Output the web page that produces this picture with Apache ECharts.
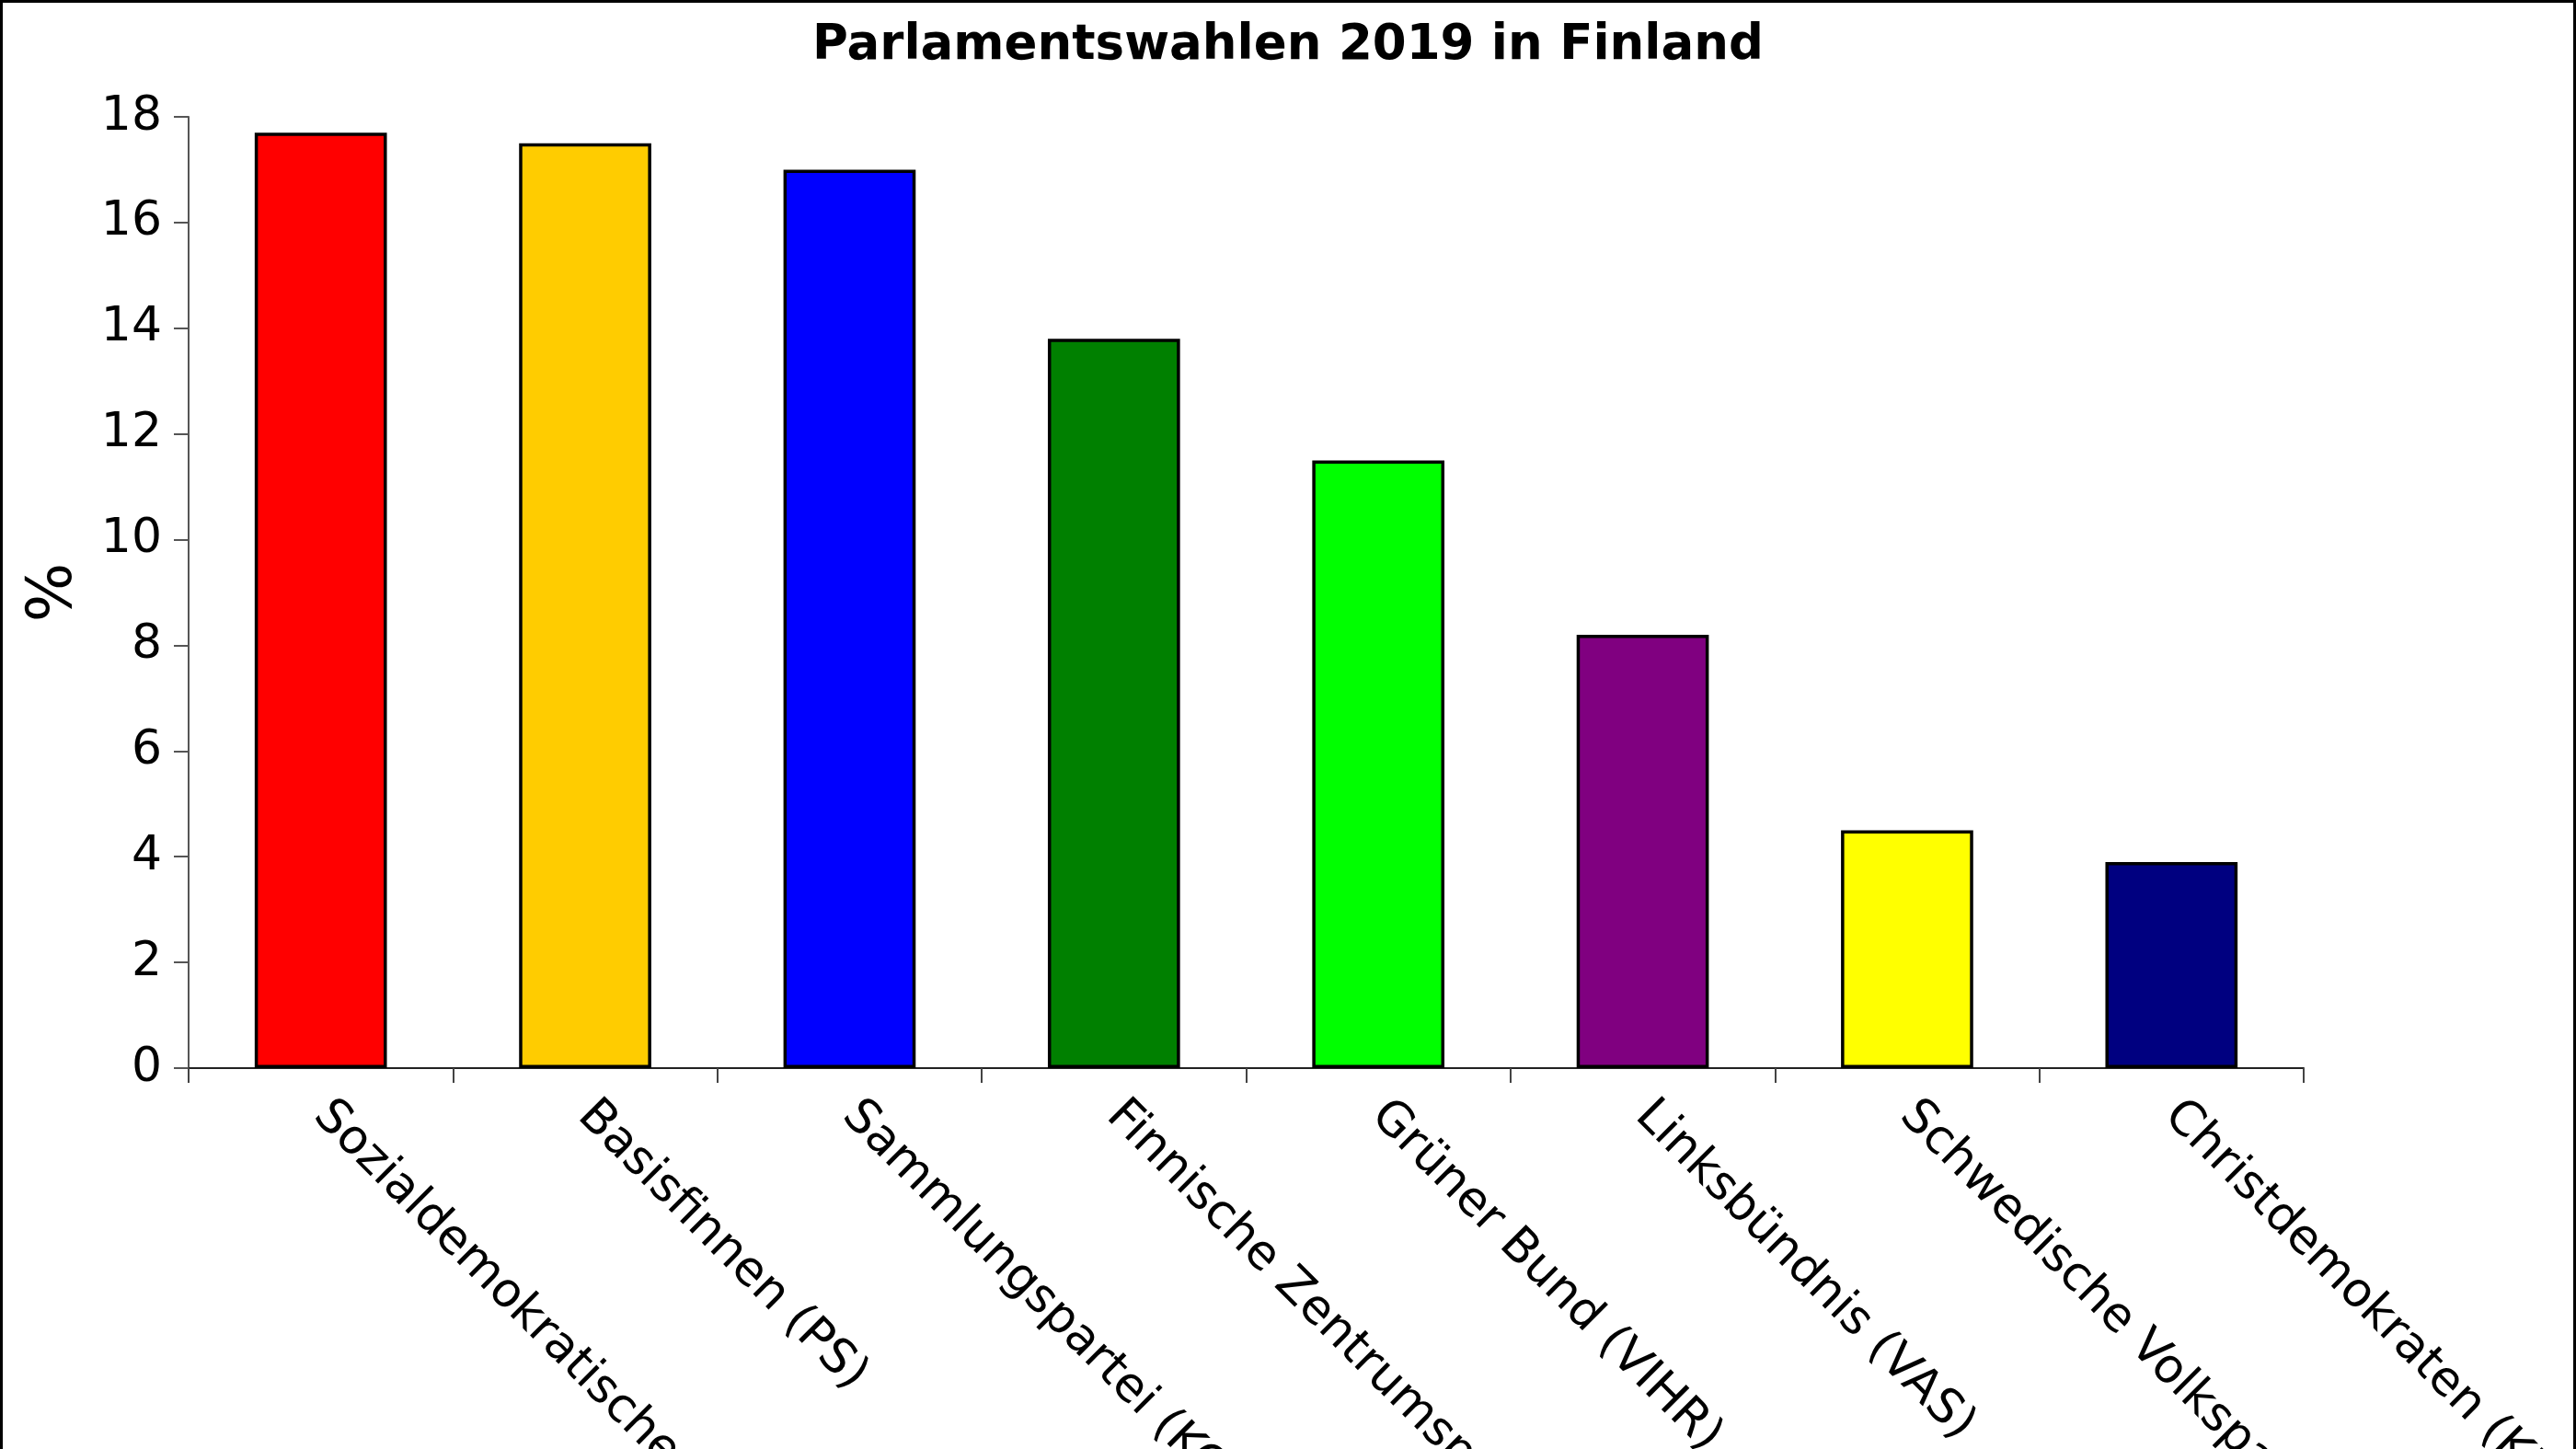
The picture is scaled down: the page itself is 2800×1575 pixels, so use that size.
<!DOCTYPE html>
<html>
<head>
<meta charset="utf-8">
<script src="https://cdn.jsdelivr.net/npm/echarts@6/dist/echarts.min.js"></script>
<style>
html,body{margin:0;padding:0;background:#fff;}
#chart{width:2800px;height:1575px;}
</style>
</head>
<body>
<div id="chart"></div>
<script>
const titleText = 'Parlamentswahlen 2019 in Finland';
const categories = [
  'Sozialdemokratische Partei (SDP)',
  'Basisfinnen (PS)',
  'Sammlungspartei (KOK)',
  'Finnische Zentrumspartei (KESK)',
  'Grüner Bund (VIHR)',
  'Linksbündnis (VAS)',
  'Schwedische Volkspartei (RKP)',
  'Christdemokraten (KD)'
];
const values = [17.7, 17.5, 17.0, 13.8, 11.5, 8.2, 4.5, 3.9];
const colors = ['#ff0000', '#ffcc00', '#0000ff', '#008000', '#00ff00', '#800080', '#ffff00', '#000080'];
const yAxisName = '%';

const FONT = 'DejaVu Sans';
const chart = echarts.init(document.getElementById('chart'));
chart.setOption({
  animation: false,
  backgroundColor: '#ffffff',
  title: {
    text: titleText,
    left: 'center',
    top: 19,
    textStyle: { fontFamily: FONT, fontSize: 53, fontWeight: 'bold', color: '#000' }
  },
  graphic: [{
    type: 'rect',
    shape: { x: 1.5, y: 1.5, width: 2797, height: 1640 },
    style: { fill: 'none', stroke: '#000', lineWidth: 3 },
    silent: true
  }],
  grid: { left: 205, right: 296, top: 127, bottom: 414, containLabel: false, outerBoundsMode: 'none' },
  xAxis: {
    type: 'category',
    data: categories,
    axisLine: { show: true, lineStyle: { color: '#222', width: 2 } },
    axisTick: { show: true, length: 16, lineStyle: { color: '#444', width: 2 } },
    axisLabel: {
      interval: 0,
      rotate: -45,
      margin: 44,
      fontFamily: FONT,
      fontSize: 52,
      color: '#000'
    }
  },
  yAxis: {
    type: 'value',
    min: 0,
    max: 18,
    interval: 2,
    name: yAxisName,
    nameLocation: 'middle',
    nameGap: 112,
    nameTextStyle: { fontFamily: FONT, fontSize: 68, color: '#000' },
    splitLine: { show: false },
    axisLine: { show: true, lineStyle: { color: '#555', width: 2 } },
    axisTick: { show: true, length: 16, lineStyle: { color: '#555', width: 2 } },
    axisLabel: { margin: 29, fontFamily: FONT, fontSize: 52, color: '#000' }
  },
  series: [{
    type: 'bar',
    barWidth: '50%',
    data: values.map((v, i) => ({
      value: v,
      itemStyle: { color: colors[i], borderColor: '#000', borderWidth: 3.5 }
    }))
  }]
});
</script>
</body>
</html>
